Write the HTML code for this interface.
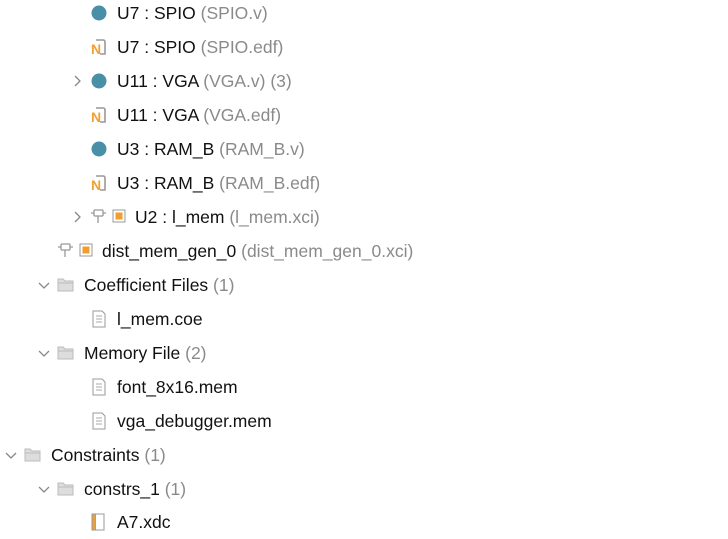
<!DOCTYPE html>
<html><head><style>
body{margin:0;width:728px;height:538px;background:#fff;position:relative;overflow:hidden;font-family:"Liberation Sans",sans-serif;font-size:17.5px;color:#111}
.r{position:absolute;height:34px;line-height:34px;white-space:nowrap}
.g{color:#8a8a8a}
svg{position:absolute}
</style></head><body>
<svg width="728" height="538" style="left:0;top:0">
<defs>
<g id="dot"><circle cx="0" cy="0" r="7.5" fill="#4a8fa8"/></g>
<g id="net"><path d="M-3,-7 H4 Q6,-7 6,-5 V7 H1" fill="none" stroke="#999" stroke-width="1.6"/><text x="-8" y="7" font-family="Liberation Sans" font-weight="bold" font-size="14" fill="#f0a030">N</text></g>
<g id="chev"><path d="M-3,-5 L2,0 L-3,5" fill="none" stroke="#888" stroke-width="1.3"/></g>
<g id="chevd"><path d="M-5,-2 L0,3 L5,-2" fill="none" stroke="#888" stroke-width="1.3"/></g>
<g id="ip"><path d="M-5,-6 H4 M-5,0 H4 M-5,-6 V0 M4,-6 V0 M-8,-3 H-5 M4,-3 H7 M-1,0 V7" fill="none" stroke="#999" stroke-width="1.3"/><rect x="14" y="-6" width="12" height="12" fill="#fff" stroke="#999"/><rect x="16.5" y="-3.5" width="7" height="7" fill="#f39c2f"/></g>
<g id="fold"><path d="M-8,-6 H-3 L-1,-4 H7 V6 H-8 Z" fill="#ddd" stroke="#bbb"/><path d="M-8,-2 H7" stroke="#bbb"/></g>
<g id="file"><path d="M-6,-8 H3 L6,-5 V8 H-6 Z" fill="#fff" stroke="#999"/><path d="M-3,-3 H3 M-3,0 H3 M-3,3 H3" stroke="#aaa"/></g>
<g id="xdc"><rect x="-7" y="-8" width="4" height="16" fill="#e8a040" stroke="#999"/><path d="M-3,-8 H5 V8 H-3" fill="#fff" stroke="#999"/></g>
</defs>
<use href="#dot" x="99" y="13"/>
<use href="#net" x="99" y="47"/>
<use href="#chev" x="78" y="81"/><use href="#dot" x="99" y="81"/>
<use href="#net" x="99" y="115"/>
<use href="#dot" x="99" y="149"/>
<use href="#net" x="99" y="183"/>
<use href="#chev" x="78" y="217"/><use href="#ip" x="99" y="216"/>
<use href="#ip" x="66" y="250"/>
<use href="#chevd" x="44" y="285"/><use href="#fold" x="66" y="285"/>
<use href="#file" x="99" y="319"/>
<use href="#chevd" x="44" y="353"/><use href="#fold" x="66" y="353"/>
<use href="#file" x="99" y="387"/>
<use href="#file" x="99" y="421"/>
<use href="#chevd" x="11" y="455"/><use href="#fold" x="33" y="455"/>
<use href="#chevd" x="44" y="489"/><use href="#fold" x="66" y="489"/>
<use href="#xdc" x="99" y="522"/>
</svg>
<div class="r" style="left:117px;top:-4px">U7 : SPIO <span class="g">(SPIO.v)</span></div>
<div class="r" style="left:117px;top:30px">U7 : SPIO <span class="g">(SPIO.edf)</span></div>
<div class="r" style="left:117px;top:64px">U11 : VGA <span class="g">(VGA.v) (3)</span></div>
<div class="r" style="left:117px;top:98px">U11 : VGA <span class="g">(VGA.edf)</span></div>
<div class="r" style="left:117px;top:132px">U3 : RAM_B <span class="g">(RAM_B.v)</span></div>
<div class="r" style="left:117px;top:166px">U3 : RAM_B <span class="g">(RAM_B.edf)</span></div>
<div class="r" style="left:135px;top:200px">U2 : l_mem <span class="g">(l_mem.xci)</span></div>
<div class="r" style="left:102px;top:234px">dist_mem_gen_0 <span class="g">(dist_mem_gen_0.xci)</span></div>
<div class="r" style="left:84px;top:268px">Coefficient Files <span class="g">(1)</span></div>
<div class="r" style="left:117px;top:302px">l_mem.coe</div>
<div class="r" style="left:84px;top:336px">Memory File <span class="g">(2)</span></div>
<div class="r" style="left:117px;top:370px">font_8x16.mem</div>
<div class="r" style="left:117px;top:404px">vga_debugger.mem</div>
<div class="r" style="left:51px;top:438px">Constraints <span class="g">(1)</span></div>
<div class="r" style="left:84px;top:472px">constrs_1 <span class="g">(1)</span></div>
<div class="r" style="left:117px;top:505px">A7.xdc</div>
</body></html>
